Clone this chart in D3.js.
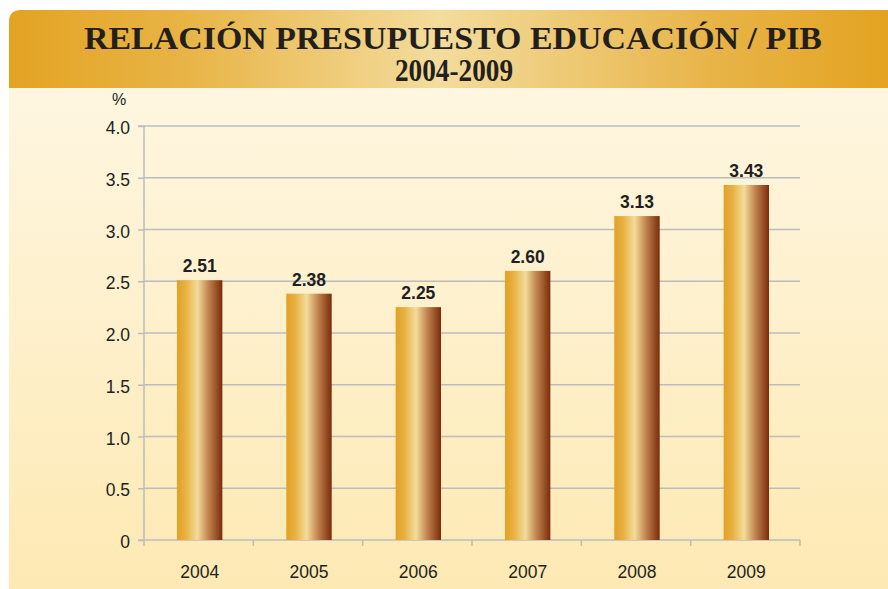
<!DOCTYPE html>
<html><head><meta charset="utf-8">
<script src="https://cdn.jsdelivr.net/npm/d3@7"></script>
<style>html,body{margin:0;padding:0;background:#fff;}svg{display:block;}</style>
</head><body>
<script>
const years = ["2004","2005","2006","2007","2008","2009"];
const values = [2.51, 2.38, 2.25, 2.60, 3.13, 3.43];
const yTicks = [0, 0.5, 1.0, 1.5, 2.0, 2.5, 3.0, 3.5, 4.0];
const titleLine1 = "RELACIÓN PRESUPUESTO EDUCACIÓN / PIB";
const titleLine2 = "2004-2009";

(function(){
const W = 888, H = 589;
const svg = d3.select("body").append("svg").attr("width", W).attr("height", H);
const defs = svg.append("defs");

const hg = defs.append("linearGradient").attr("id","hdr").attr("x1","0").attr("x2","1").attr("y1","0").attr("y2","0");
[[0,"#e3a322"],[0.2,"#e8b446"],[0.49,"#f3dc9d"],[0.8,"#e8b448"],[1,"#e3a321"]].forEach(([o,c])=>hg.append("stop").attr("offset",o).attr("stop-color",c));

const bg = defs.append("linearGradient").attr("id","bg").attr("x1","0").attr("x2","0").attr("y1","0").attr("y2","1");
[[0,"#fef8e8"],[1,"#fde9b3"]].forEach(([o,c])=>bg.append("stop").attr("offset",o).attr("stop-color",c));

const barg = defs.append("linearGradient").attr("id","bar").attr("x1","0").attr("x2","1").attr("y1","0").attr("y2","0");
[[0,"#e2a025"],[0.2,"#e8b243"],[0.45,"#f3dc9a"],[0.7,"#c0824e"],[1,"#7a2c0a"]].forEach(([o,c])=>barg.append("stop").attr("offset",o).attr("stop-color",c));

const px = 9, py = 10, r = 12, hdrBottom = 88;
svg.append("path")
  .attr("d", `M${px},${H} L${px},${py+r} Q${px},${py} ${px+r},${py} L${W},${py} L${W},${H} Z`)
  .attr("fill","url(#bg)");
svg.append("path")
  .attr("d", `M${px},${hdrBottom} L${px},${py+r} Q${px},${py} ${px+r},${py} L${W},${py} L${W},${hdrBottom} Z`)
  .attr("fill","url(#hdr)");

const tf = "'Liberation Serif','DejaVu Serif',serif";
svg.append("text").attr("x",453).attr("y",49).attr("text-anchor","middle")
  .attr("font-family",tf).attr("font-weight","bold")
  .attr("font-size",31).attr("fill","#231f1c")
  .attr("textLength",738).attr("lengthAdjust","spacingAndGlyphs").text(titleLine1);
svg.append("text").attr("x",454).attr("y",81).attr("text-anchor","middle")
  .attr("font-family",tf).attr("font-weight","bold")
  .attr("font-size",31).attr("fill","#231f1c")
  .attr("textLength",118).attr("lengthAdjust","spacingAndGlyphs").text(titleLine2);

const mL = 144, mR = 800, mT = 126, mB = 540;
const x = d3.scaleBand().domain(years).range([mL,mR]).padding(0);
const y = d3.scaleLinear().domain([0,4]).range([mB,mT]);

const font = "'Liberation Sans',Arial,Helvetica,sans-serif";
const gridColor = "#bcbcbc";

svg.append("g").selectAll("line").data(yTicks.filter(d=>d>0)).join("line")
  .attr("x1",mL).attr("x2",mR).attr("y1",d=>y(d)).attr("y2",d=>y(d))
  .attr("stroke",gridColor).attr("stroke-width",1.5);

const yAxis = svg.append("g").attr("transform",`translate(${mL},0)`)
  .call(d3.axisLeft(y).tickValues(yTicks).tickSize(6).tickPadding(8)
    .tickFormat(d=>d===0?"0":d3.format(".1f")(d)));
yAxis.select(".domain").attr("stroke",gridColor).attr("stroke-width",1.5).attr("d",`M-6,${mT}H0V${mB}H-6`);
yAxis.selectAll(".tick line").attr("stroke",gridColor).attr("stroke-width",1.5);
yAxis.selectAll("text").attr("font-family",font).attr("font-size",17.5).attr("fill","#231f20").attr("y",2);

const xAxis = svg.append("g").attr("transform",`translate(0,${mB})`);
xAxis.append("line").attr("x1",mL).attr("x2",mR).attr("y1",0).attr("y2",0)
  .attr("stroke",gridColor).attr("stroke-width",1.5);
const bounds = years.map(d=>x(d)).concat([mR]);
xAxis.selectAll("line.tk").data(bounds).join("line").attr("class","tk")
  .attr("x1",d=>d).attr("x2",d=>d).attr("y1",0).attr("y2",6)
  .attr("stroke",gridColor).attr("stroke-width",1.5);
xAxis.selectAll("text").data(years).join("text")
  .attr("x",d=>x(d)+x.bandwidth()/2+1).attr("y",37.5).attr("text-anchor","middle")
  .attr("font-family",font).attr("font-size",17.5).attr("fill","#231f20").text(d=>d);

const bw = x.bandwidth()*0.415;
svg.append("g").selectAll("rect").data(values).join("rect")
  .attr("x",(d,i)=>x(years[i])+x.bandwidth()/2+1-bw/2)
  .attr("width",bw)
  .attr("y",d=>y(d)).attr("height",d=>mB-y(d))
  .attr("fill","url(#bar)");

svg.append("g").selectAll("text").data(values).join("text")
  .attr("x",(d,i)=>x(years[i])+x.bandwidth()/2+1)
  .attr("y",d=>y(d)-8).attr("text-anchor","middle")
  .attr("font-family",font).attr("font-weight","bold").attr("font-size",17.5).attr("fill","#231f20")
  .text(d=>d3.format(".2f")(d));

svg.append("text").attr("x",119).attr("y",105).attr("text-anchor","middle")
  .attr("font-family",font).attr("font-size",16).attr("fill","#231f20").text("%");
})();
</script>
</body></html>
